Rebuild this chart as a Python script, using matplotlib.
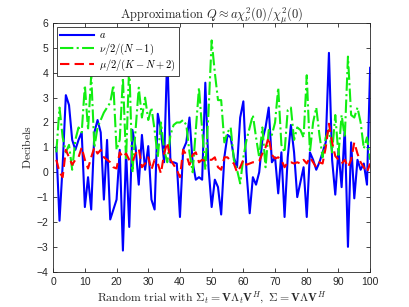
import numpy as np
import matplotlib
matplotlib.use("Agg")
import matplotlib.pyplot as plt

plt.rcParams["mathtext.fontset"] = "cm"
plt.rcParams["font.family"] = ["Liberation Sans", "DejaVu Sans"]

trial = np.arange(1, 101)

# a (blue, solid)
a_vals = [
    1.0, -1.95, 0.3, 3.1, 2.7, 1.3, 0.9, 1.3, 1.6, -1.4,
    -0.2, -1.5, 1.6, 2.1, 1.6, -1.1, 1.3, -1.9, -1.5, -1.1,
    0.9, -3.15, 0.85, -2.2, 1.7, 1.0, -0.5, 1.5, 0.1, 1.05,
    -1.1, -1.5, 2.35, 1.7, 0.4, 4.8, 0.4, 0.4, 0.35, -1.8,
    0.9, 1.2, 2.2, 0.4, -0.3, -0.2, -0.3, 3.6, 0.2, -1.4,
    -0.3, -0.6, -1.7, 0.6, 1.5, 1.4, 0.6, 0.2, 2.2, 2.85,
    0.0, -1.65, -0.2, -0.5, 0.0, 1.3, 1.8, 2.6, 0.4, 0.6,
    -0.85, 0.8, -1.8, 0.6, 1.9, 0.8, -1.0, -0.4, 0.2, -1.8,
    0.8, 0.5, 0.1, 0.4, 0.8, 1.2, 4.8, 0.5, -0.9, 0.9,
    -0.6, 1.8, -3.0, 1.2, -1.05, 0.5, 0.1, 0.35, -0.5, 4.2,
]

# nu/2/(N-1) (green, dash-dot)
nu_vals = [
    0.8, 2.6, 1.4, 0.8, 1.1, 0.1, 1.3, 1.8, 1.6, 3.5,
    1.7, 3.9, 1.0, 1.8, 2.1, 2.4, 2.6, 2.8, 3.5, 0.9,
    1.3, 3.8, 0.5, 4.4, 0.0, 1.7, 3.4, 2.2, 3.0, 2.1,
    2.6, 1.7, 0.6, 2.0, 0.9, 0.4, 1.5, 1.9, 2.0, 2.0,
    2.1, 1.9, 0.8, 0.0, 1.7, 3.4, 1.7, 0.1, 2.4, 5.3,
    4.0, 2.9, 2.9, 1.2, 1.6, 1.8, 0.5, 0.1, -0.45, 0.6,
    1.3, 1.8, 2.3, 1.4, 0.6, 1.8, 0.2, 1.7, 1.5, 2.0,
    3.4, 1.1, 0.8, 2.5, 2.6, 1.3, 1.8, 1.7, 1.4, 3.9,
    0.8, 2.0, 2.6, 1.5, 0.6, 1.4, 1.7, 0.8, 2.3, 0.7,
    2.3, 1.4, 4.65, 2.3, 2.2, 2.6, 2.0, 0.95, 1.4, 0.5,
]

# mu/2/(K-N+2) (red, dashed)
mu_vals = [
    0.5, 0.0, -0.2, 0.9, 0.6, 0.3, 0.5, 0.6, 1.0, 0.5,
    0.15, 0.6, 1.0, 0.75, 0.9, 0.6, 0.5, 0.4, 0.2, 0.15,
    0.8, 0.6, 0.75, 0.5, 0.4, 0.75, 0.95, 0.2, 0.35, 0.6,
    0.1, 0.5, 0.35, -0.05, 0.75, 1.2, 0.5, 0.3, 0.1, -0.2,
    0.9, 0.7, 0.3, 0.7, 0.8, 0.4, 0.5, 0.45, 0.5, 0.5,
    0.6, 0.2, 0.1, 0.6, 0.6, 0.45, 0.35, 0.0, 0.2, 0.5,
    0.3, 0.35, 0.4, 0.4, 0.45, 0.75, 1.0, 1.4, 0.7, 0.55,
    0.6, 0.5, 0.2, 0.4, 0.4, 0.35, 0.4, 0.35, 0.5, 0.35,
    0.6, 0.4, 0.2, 0.4, 0.35, 1.0, 1.95, 1.2, 0.65, 0.5,
    0.35, 0.5, 0.2, 0.5, 1.2, 0.75, 0.4, 0.2, 0.0, 0.35,
]

fig = plt.figure(figsize=(4.09, 3.07), dpi=100)
ax = fig.add_axes([0.13, 0.115, 0.775, 0.81])

ax.plot(trial, a_vals, color="#0000ff", lw=1.5, label=r"$a$")
ax.plot(trial, nu_vals, color="#11ee11", lw=1.5, ls="-.", label=r"$\nu/2/(N-1)$")
ax.plot(trial, mu_vals, color="#ff0000", lw=1.5, ls=(0, (4.5, 2.5)), label=r"$\mu/2/(K-N+2)$")

ax.set_xlim(0, 100)
ax.set_ylim(-4, 6)
ax.set_xticks(np.arange(0, 101, 10))
ax.set_yticks(np.arange(-4, 7, 1))

axcol = "#262626"
for s in ax.spines.values():
    s.set_color(axcol)
    s.set_linewidth(0.6)
ax.tick_params(direction="in", top=True, right=True, length=3, width=0.6,
               labelsize=7.5, colors=axcol)

ax.set_title(r"$\mathrm{Approximation}\ Q \approx a\chi^2_\nu(0)/\chi^2_\mu(0)$",
             fontsize=9, color=axcol, pad=3)
ax.set_ylabel(r"$\mathrm{Decibels}$", fontsize=8.5, color=axcol, labelpad=2)
ax.set_xlabel(r"$\mathrm{Random\ trial\ with}\ \boldsymbol{\Sigma}_t = \mathbf{V}\boldsymbol{\Lambda}_t\mathbf{V}^H,\ "
              r"\boldsymbol{\Sigma} = \mathbf{V}\boldsymbol{\Lambda}\mathbf{V}^H$",
              fontsize=8.5, color=axcol, labelpad=2)

leg = ax.legend(loc="upper left", fontsize=7.5, frameon=True, fancybox=False,
                borderpad=0.3, handlelength=3.2, labelspacing=0.1,
                handletextpad=0.5, borderaxespad=0.4)
leg.get_frame().set_edgecolor(axcol)
leg.get_frame().set_linewidth(0.6)
leg.get_frame().set_alpha(1)

fig.savefig("out.png", dpi=100)
